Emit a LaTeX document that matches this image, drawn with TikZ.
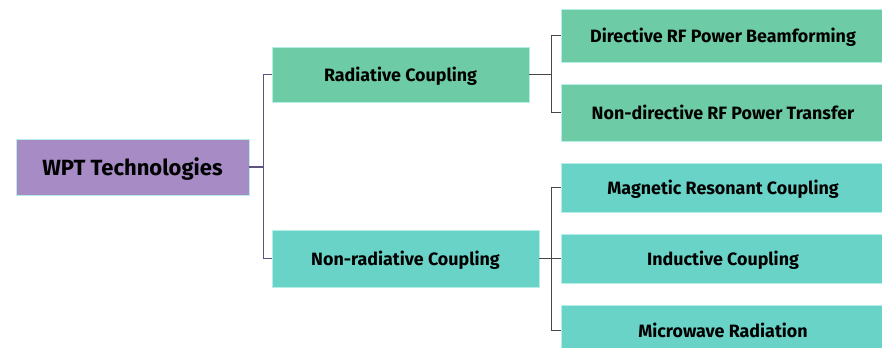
\documentclass[tikz,border=0pt]{standalone}
\usepackage{fontspec}
\setmainfont{Fira Sans}
\usepackage{xcolor}
\definecolor{wptPurple}{HTML}{A68BC5}
\definecolor{wptGreen}{HTML}{6DCCA6}
\definecolor{wptTeal}{HTML}{6AD3C8}
\definecolor{wptEdge}{HTML}{B4EEE6}
\definecolor{wptRootLine}{HTML}{5B5480}
\definecolor{wptLine}{HTML}{474747}
\usetikzlibrary{positioning}

\begin{document}
\begin{tikzpicture}[
		x=0.75pt, y=-0.75pt,
		box/.style={
			draw=wptEdge,
			line width=0.6pt,
			inner sep=0pt,
			text depth=0pt,
			align=center,
			font=\fontsize{13.4}{15}\selectfont\bfseries
		},
		rootline/.style={draw=wptRootLine, line width=1.1pt},
		leafline/.style={draw=wptLine, line width=1.1pt}
		]
		
		\clip (0,0) rectangle (882,347);
		\fill[white] (0,0) rectangle (882,347);
		
		\node[box, fill=wptPurple, minimum width=174.75pt, minimum height=42pt,
			font=\fontsize{16.5}{18}\selectfont\bfseries] (root) at (132.5,167) {WPT Technologies};
		
		\node[box, fill=wptGreen, minimum width=192.75pt, minimum height=41.25pt] (rad) at (400.5,74.5) {Radiative Coupling};
		\node[box, fill=wptTeal, minimum width=200.25pt, minimum height=42.75pt] (nonrad) at (405.5,258.5) {Non-radiative Coupling};
		
		\node[box, fill=wptGreen, minimum width=243pt, minimum height=39.75pt] (dir) at (723,35.5) {Directive RF Power Beamforming};
		\node[box, fill=wptGreen, minimum width=243pt, minimum height=42.75pt] (nondir) at (723,112.5) {Non-directive RF Power Transfer};
		
		\node[box, fill=wptTeal, minimum width=243pt, minimum height=36.75pt] (mag) at (723,187.5) {Magnetic Resonant Coupling};
		\node[box, fill=wptTeal, minimum width=243pt, minimum height=36.75pt] (ind) at (723,258.5) {Inductive Coupling};
		\node[box, fill=wptTeal, minimum width=243pt, minimum height=37.5pt] (mic) at (723,330.5) {Microwave Radiation};
		
		\draw[rootline] (root.east) -- ++(14,0) |- (rad.west);
		\draw[rootline] (root.east) -- ++(14,0) |- (nonrad.west);
		
		\draw[leafline] (rad.east) -- ++(22,0) |- (dir.west);
		\draw[leafline] (rad.east) -- ++(22,0) |- (nondir.west);
		
		\draw[leafline] (nonrad.east) -- ++(12,0) |- (mag.west);
		\draw[leafline] (nonrad.east) -- (ind.west);
		\draw[leafline] (nonrad.east) -- ++(12,0) |- (mic.west);
		
	\end{tikzpicture}
\end{document}
